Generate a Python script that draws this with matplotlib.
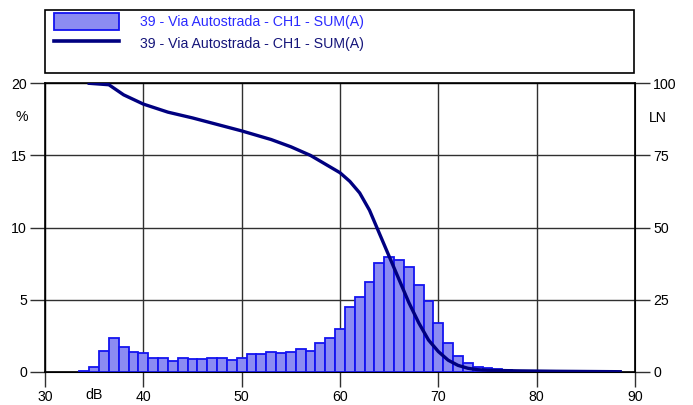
import numpy as np
import matplotlib
matplotlib.use('Agg')
import matplotlib.pyplot as plt
from matplotlib.patches import Rectangle, Patch
from matplotlib.lines import Line2D

plt.rcParams['font.family'] = ['Liberation Sans', 'DejaVu Sans']

# distribution (%), one bar per dB
db=[34,35,36,37,38,39,40,41,42,43,44,45,46,47,48,49,50,51,52,53,54,55,56,57,58,59,
    60,61,62,63,64,65,66,67,68,69,70,71,72,73,74,75,76,77,78,79,80]
pct=[0.05,0.3,1.46,2.31,1.73,1.34,1.27,0.95,0.93,0.75,0.93,0.86,0.88,0.95,0.98,0.81,0.97,
     1.26,1.25,1.34,1.27,1.34,1.6,1.41,2.02,2.37,2.94,4.51,5.2,6.22,7.56,7.93,7.74,7.28,
     6.01,4.9,3.35,1.96,1.12,0.63,0.35,0.23,0.16,0.1,0.08,0.05,0.04]

# cumulative level curve LN
ln_db=[34.5,36.5,38,40,42.5,45,50,53,55,57,59,60,61,62,63,64,65,66,67,68,69,70,71,72,73,74,75,78,82,88.5]
ln_val=[100,99.5,96,92.8,90,88,83.5,80.5,78,75,71,69,66,62,56,48,40,32,24,17,11,7,4,2.2,1.2,0.7,0.5,0.3,0.15,0]

label='39 - Via Autostrada - CH1 - SUM(A)'
fs=10.2

fig=plt.figure(figsize=(6.93,4.05),dpi=100)
ax=fig.add_axes([0.0649,0.0822,0.9163-0.0649,0.7943-0.0822])
ax.bar(db,pct,width=1,color='#8c8cf2',edgecolor='#1414f0',linewidth=1.3,zorder=3)
ax.set_xlim(30,90)
ax.set_ylim(0,20)
ax.set_xticks([30,40,50,60,70,80,90])
ax.set_yticks([0,5,10,15,20])
ax.grid(True,color='#303030',linewidth=1,zorder=0)
ax.tick_params(direction='out',length=11,width=1,color='#303030',labelsize=fs,pad=2)
for s in ax.spines.values():
    s.set_linewidth(1.2)
    s.set_color('black')

ax2=ax.twinx()
ax2.plot(ln_db,ln_val,color='#000080',linewidth=2.4,zorder=4)
ax2.set_ylim(0,100)
ax2.set_yticks([0,25,50,75,100])
ax2.tick_params(direction='out',length=11,width=1,color='#303030',labelsize=fs,pad=2)

ax.text(35,-1.6,'dB',ha='center',va='center',fontsize=fs)
fig.text(22/693,1-117/405,'%',ha='center',va='center',fontsize=fs)
fig.text(658/693,1-118/405,'LN',ha='center',va='center',fontsize=fs)

# legend box
fig.add_artist(Rectangle((45/693,1-73/405),589/693,63/405,transform=fig.transFigure,
                         fill=False,edgecolor='black',linewidth=1.2))
h1=Patch(facecolor='#8c8cf2',edgecolor='#1414f0',linewidth=1.3)
h2=Line2D([],[],color='#000080',linewidth=2.6)
leg=fig.legend([h1,h2],[label,label],loc='upper left',bbox_to_anchor=(54/693,1-13/405),
               frameon=False,fontsize=fs,handlelength=4.6,handleheight=1.5,
               handletextpad=1.5,labelspacing=0.3,borderaxespad=0,borderpad=0)
leg.get_texts()[0].set_color('#2a2aff')
leg.get_texts()[1].set_color('#15157a')

fig.savefig('out.png',dpi=100)
